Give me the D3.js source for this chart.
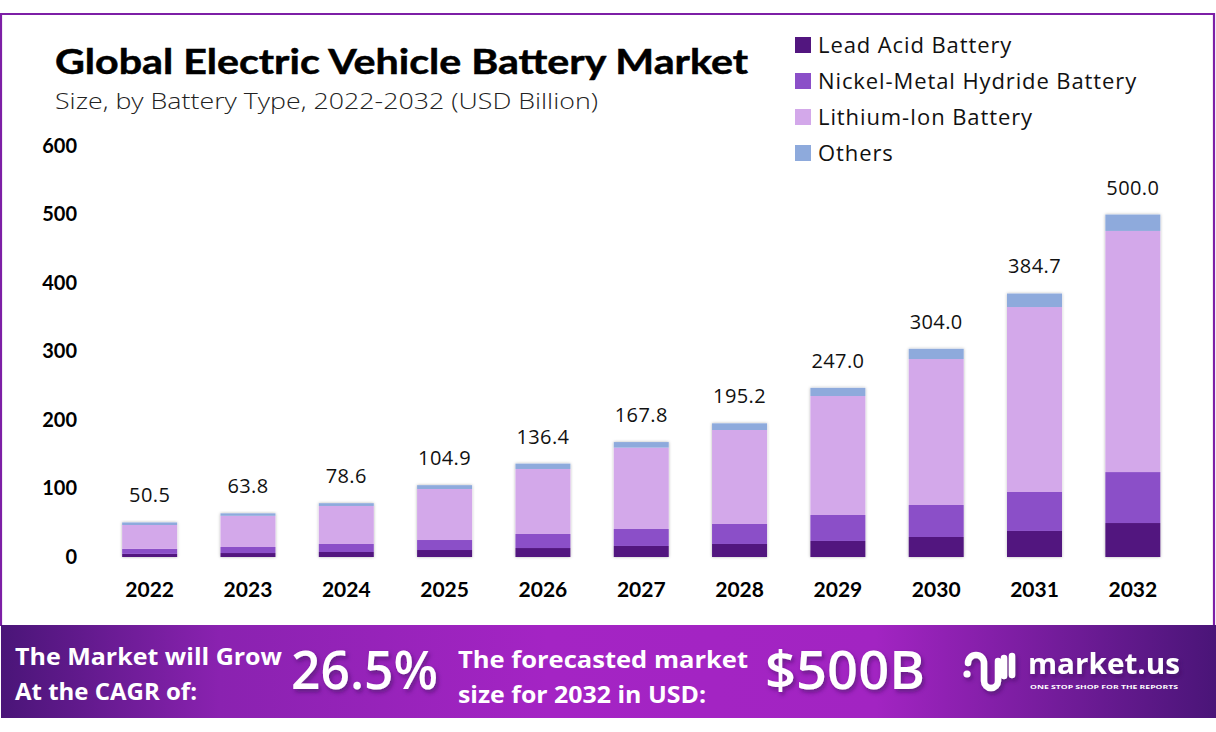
<!DOCTYPE html>
<html>
<head>
<meta charset="utf-8">
<script src="https://cdn.jsdelivr.net/npm/d3@7"></script>
<style>
  body { margin: 0; background: #fff; }
  svg { display: block; }
</style>
</head>
<body>
<div id="chart"></div>
<script>
const width = 1216;
const height = 732;

// data
const years = ["2022", "2023", "2024", "2025", "2026", "2027", "2028", "2029", "2030", "2031", "2032"];
const leadAcid = [4.5, 5.8, 7.3, 10.2, 13.1, 16.1, 19.0, 23.4, 29.2, 38.0, 49.6];
const nickelMetal = [7.3, 8.8, 11.7, 14.6, 20.5, 24.8, 29.2, 37.9, 46.7, 56.9, 74.4];
const lithiumIon = [34.9, 45.5, 55.5, 74.5, 94.9, 118.7, 137.2, 173.7, 213.1, 270.0, 352.0];
const others = [3.8, 3.7, 4.1, 5.6, 7.9, 8.2, 9.8, 12.0, 15.0, 19.8, 24.0];
const totals = [50.5, 63.8, 78.6, 104.9, 136.4, 167.8, 195.2, 247.0, 304.0, 384.7, 500.0];
const seriesNames = ["Lead Acid Battery", "Nickel-Metal Hydride Battery", "Lithium-Ion Battery", "Others"];
const yTicks = [0, 100, 200, 300, 400, 500, 600];

const colors = ["#52167f", "#8b4fc8", "#d3a8ea", "#8eaadc"];

const svg = d3.select("#chart")
  .append("svg")
  .attr("width", width)
  .attr("height", height);

const defs = svg.append("defs");

// soft grey halo round the bars
const shadow = defs.append("filter")
  .attr("id", "barShadow")
  .attr("x", "-20%").attr("y", "-5%")
  .attr("width", "140%").attr("height", "110%");
shadow.append("feDropShadow")
  .attr("dx", 0).attr("dy", 0)
  .attr("stdDeviation", 1.8)
  .attr("flood-color", "#000")
  .attr("flood-opacity", 0.3);

// footer gradient
const grad = defs.append("linearGradient")
  .attr("id", "footerGrad")
  .attr("x1", "0%").attr("x2", "100%");
grad.append("stop").attr("offset", "0%").attr("stop-color", "#4a1578");
grad.append("stop").attr("offset", "18%").attr("stop-color", "#8a22b0");
grad.append("stop").attr("offset", "45%").attr("stop-color", "#a424c4");
grad.append("stop").attr("offset", "72%").attr("stop-color", "#a224c2");
grad.append("stop").attr("offset", "100%").attr("stop-color", "#4a1578");

const textShadow = defs.append("filter").attr("id", "txtShadow")
  .attr("x", "-10%").attr("y", "-20%").attr("width", "130%").attr("height", "150%");
textShadow.append("feDropShadow")
  .attr("dx", 2).attr("dy", 3)
  .attr("stdDeviation", 2)
  .attr("flood-color", "#3a0a5a")
  .attr("flood-opacity", 0.55);

// outer purple frame
svg.append("path")
  .attr("d", "M1,626 V14 H1214 V626")
  .attr("fill", "none")
  .attr("stroke", "#7d1fa6")
  .attr("stroke-width", 2.2);

// titles
svg.append("text")
  .attr("x", 55)
  .attr("y", 74)
  .attr("textLength", 693)
  .attr("lengthAdjust", "spacingAndGlyphs")
  .style("font-family", "Lato, 'Open Sans', sans-serif")
  .style("font-weight", 700)
  .style("font-size", "35px")
  .style("fill", "#000")
  .style("stroke", "#000")
  .style("stroke-width", 0.5)
  .text("Global Electric Vehicle Battery Market");

svg.append("text")
  .attr("x", 55)
  .attr("y", 109)
  .attr("textLength", 543)
  .attr("lengthAdjust", "spacingAndGlyphs")
  .style("font-family", "'Open Sans', sans-serif")
  .style("font-weight", 300)
  .style("font-size", "22px")
  .style("fill", "#222")
  .text("Size, by Battery Type, 2022-2032 (USD Billion)");

// scales
const x_scale = d3.scaleBand()
  .domain(years)
  .range([100.5, 1182])
  .paddingInner(0.44)
  .paddingOuter(0.22);

const y_scale = d3.scaleLinear()
  .domain([0, 600])
  .range([557, 146]);

// y axis (labels only)
const y_axis = d3.axisLeft(y_scale)
  .tickValues(yTicks)
  .tickSize(0)
  .tickPadding(0);

const yAxisGroup = svg.append("g")
  .attr("transform", "translate(77,0)")
  .call(y_axis);
yAxisGroup.select(".domain").remove();
yAxisGroup.selectAll("text")
  .style("font-family", "Lato, 'Open Sans', sans-serif")
  .style("font-weight", 700)
  .style("font-size", "20px")
  .style("fill", "#000");

// x axis (labels only)
const x_axis = d3.axisBottom(x_scale).tickSize(0).tickPadding(0);
const xAxisGroup = svg.append("g")
  .attr("transform", "translate(0,582)")
  .call(x_axis);
xAxisGroup.select(".domain").remove();
xAxisGroup.selectAll("text")
  .style("font-family", "Lato, 'Open Sans', sans-serif")
  .style("font-weight", 700)
  .style("font-size", "21px")
  .style("fill", "#000");

// stacked data
const table = years.map((yr, i) => ({
  year: yr,
  "Lead Acid Battery": leadAcid[i],
  "Nickel-Metal Hydride Battery": nickelMetal[i],
  "Lithium-Ion Battery": lithiumIon[i],
  "Others": others[i],
  total: totals[i]
}));

const stacked = d3.stack().keys(seriesNames)(table);
const color = d3.scaleOrdinal().domain(seriesNames).range(colors);

// halo behind each whole bar
svg.append("g")
  .selectAll("rect")
  .data(table)
  .enter()
  .append("rect")
  .attr("x", d => x_scale(d.year))
  .attr("y", d => y_scale(d.total))
  .attr("width", x_scale.bandwidth())
  .attr("height", d => y_scale(0) - y_scale(d.total))
  .attr("fill", "#fff")
  .attr("filter", "url(#barShadow)");

svg.append("g")
  .selectAll("g")
  .data(stacked)
  .enter()
  .append("g")
  .attr("fill", d => color(d.key))
  .selectAll("rect")
  .data(d => d)
  .enter()
  .append("rect")
  .attr("x", d => x_scale(d.data.year))
  .attr("y", d => y_scale(d[1]))
  .attr("width", x_scale.bandwidth())
  .attr("height", d => y_scale(d[0]) - y_scale(d[1]));

// totals above bars
svg.append("g")
  .selectAll("text")
  .data(table)
  .enter()
  .append("text")
  .attr("x", d => x_scale(d.year) + x_scale.bandwidth() / 2)
  .attr("y", d => y_scale(d.total) - 20)
  .attr("text-anchor", "middle")
  .style("font-family", "'Open Sans', sans-serif")
  .style("font-size", "20px")
  .style("letter-spacing", "0.4px")
  .style("fill", "#111")
  .text(d => d.total.toFixed(1));

// legend
const legend = svg.selectAll(".legend")
  .data(seriesNames)
  .enter()
  .append("g")
  .attr("class", "legend")
  .attr("transform", (d, i) => "translate(795," + (45 + i * 36) + ")");

legend.append("rect")
  .attr("x", 0)
  .attr("y", -8)
  .attr("width", 16)
  .attr("height", 16)
  .style("fill", color);

legend.append("text")
  .attr("x", 23)
  .attr("y", 0)
  .attr("dy", "0.36em")
  .style("font-family", "'Open Sans', sans-serif")
  .style("font-size", "22px")
  .style("letter-spacing", "0.9px")
  .style("fill", "#111")
  .text(d => d);

// footer band
const footer = svg.append("g");
footer.append("rect")
  .attr("x", 1)
  .attr("y", 625)
  .attr("width", 1215)
  .attr("height", 93)
  .attr("fill", "url(#footerGrad)");

const footFont = "'Open Sans', sans-serif";
const footLines = [
  { x: 15, y: 665, len: 267, txt: "The Market will Grow" },
  { x: 15, y: 700, len: 182, txt: "At the CAGR of:" },
  { x: 458, y: 668, len: 290, txt: "The forecasted market" },
  { x: 458, y: 703, len: 248, txt: "size for 2032 in USD:" }
];
footer.selectAll(".footLine")
  .data(footLines)
  .enter()
  .append("text")
  .attr("class", "footLine")
  .attr("x", d => d.x)
  .attr("y", d => d.y)
  .attr("textLength", d => d.len)
  .attr("lengthAdjust", "spacingAndGlyphs")
  .style("font-family", footFont).style("font-weight", 700)
  .style("font-size", "24px").style("fill", "#fff")
  .text(d => d.txt);

footer.append("text")
  .attr("x", 291).attr("y", 689)
  .attr("textLength", 147)
  .attr("lengthAdjust", "spacingAndGlyphs")
  .attr("filter", "url(#txtShadow)")
  .style("font-family", footFont).style("font-weight", 600)
  .style("font-size", "52px").style("fill", "#fff")
  .text("26.5%");

footer.append("text")
  .attr("x", 765).attr("y", 689)
  .attr("textLength", 160)
  .attr("lengthAdjust", "spacingAndGlyphs")
  .attr("filter", "url(#txtShadow)")
  .style("font-family", footFont).style("font-weight", 600)
  .style("font-size", "52px").style("fill", "#fff")
  .text("$500B");

// market.us logo
const logo = footer.append("g")
  .attr("filter", "url(#txtShadow)");
logo.append("circle").attr("cx", 967).attr("cy", 674).attr("r", 3.6).attr("fill", "#fff");
logo.append("path")
  .attr("d", "M968,663 A8,8 0 0 1 984,663 V681 A7,7 0 0 0 998,681 V661 M1004,658 V676 M1012,656 V675")
  .attr("fill", "none")
  .attr("stroke", "#fff")
  .attr("stroke-width", 6.5)
  .attr("stroke-linecap", "round");

logo.append("text")
  .attr("x", 1028).attr("y", 674)
  .attr("textLength", 152)
  .attr("lengthAdjust", "spacingAndGlyphs")
  .style("font-family", footFont).style("font-weight", 700)
  .style("font-size", "29px").style("fill", "#fff")
  .text("market.us");
footer.append("text")
  .attr("x", 1030).attr("y", 689)
  .attr("textLength", 148)
  .attr("lengthAdjust", "spacingAndGlyphs")
  .style("font-family", footFont).style("font-weight", 700)
  .style("font-size", "6px").style("fill", "#fff")
  .text("ONE STOP SHOP FOR THE REPORTS");
</script>
</body>
</html>
